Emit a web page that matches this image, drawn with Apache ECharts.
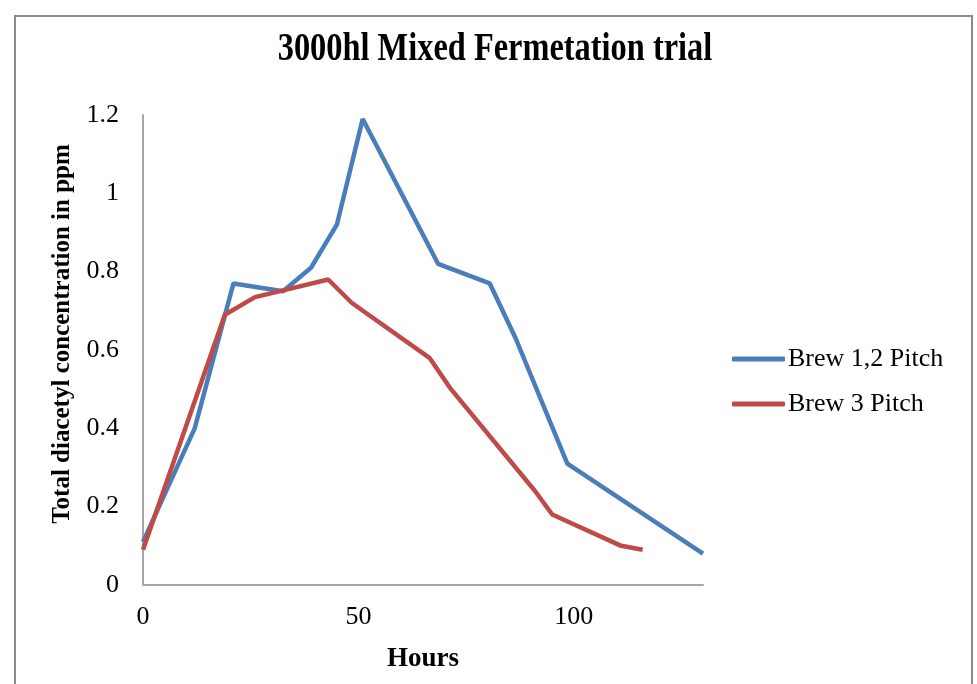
<!DOCTYPE html>
<html>
<head>
<meta charset="utf-8">
<script src="https://cdn.jsdelivr.net/npm/echarts@6/dist/echarts.min.js"></script>
<style>
html,body{margin:0;padding:0;background:#fff;}
#chart{width:977px;height:684px;}
</style>
</head>
<body>
<div id="chart"></div>
<script>
// Data
var seriesNames = ['Brew 1,2 Pitch', 'Brew 3 Pitch'];
var brew12Hours = [0, 12, 21, 32.5, 39, 45, 51, 68.5, 80.5, 86.5, 98.5, 130];
var brew12Ppm   = [0.11, 0.40, 0.77, 0.75, 0.81, 0.92, 1.19, 0.82, 0.77, 0.63, 0.31, 0.08];
var brew3Hours  = [0, 19, 26, 43, 48.5, 66.5, 71.5, 91, 95, 111, 116];
var brew3Ppm    = [0.09, 0.69, 0.735, 0.78, 0.72, 0.58, 0.50, 0.24, 0.18, 0.10, 0.09];
var xTicks = [0, 50, 100];
var yTicks = [0, 0.2, 0.4, 0.6, 0.8, 1, 1.2];
var titleText = '3000hl Mixed Fermetation trial';
var xName = 'Hours';
var yName = 'Total diacetyl concentration in ppm';

function pairs(xs, ys) { return xs.map(function (x, i) { return [x, ys[i]]; }); }

var FONT = 'Liberation Serif';
var chart = echarts.init(document.getElementById('chart'));
chart.setOption({
  backgroundColor: '#ffffff',
  animation: false,
  graphic: [
    { type: 'rect', shape: { x: 15, y: 16, width: 957, height: 720 },
      style: { fill: 'none', stroke: '#8a8a8a', lineWidth: 2 }, silent: true },
    { type: 'text', x: 495, y: 50, scaleX: 0.81, scaleY: 1,
      style: { text: titleText, font: 'bold 40px "' + FONT + '"', fill: '#000',
               textAlign: 'center', textVerticalAlign: 'middle' } },
    { type: 'text', x: 63, y: 334, rotation: Math.PI / 2,
      style: { text: yName, font: 'bold 25px "' + FONT + '"', fill: '#000',
               textAlign: 'center', textVerticalAlign: 'middle' } }
  ],
  grid: { left: 143, right: 274, top: 115, bottom: 99, containLabel: false },
  legend: {
    orient: 'vertical', left: 732, top: 346, padding: 0,
    itemWidth: 53, itemHeight: 5, itemGap: 19, icon: 'roundRect',
    textStyle: { fontFamily: FONT, fontSize: 26, color: '#000', lineHeight: 26, padding: [0, 0, 0, -2] },
    data: seriesNames
  },
  xAxis: {
    type: 'value', min: 0, max: 130, interval: 50,
    name: xName, nameLocation: 'middle', nameGap: 61,
    nameTextStyle: { fontFamily: FONT, fontSize: 27, fontWeight: 'bold', color: '#000' },
    axisLine: { show: true, lineStyle: { color: '#a6a6a6', width: 2 } },
    axisTick: { show: false },
    splitLine: { show: false },
    axisLabel: { fontFamily: FONT, fontSize: 26, color: '#000', margin: 19, showMaxLabel: false,
      formatter: function (v) { return xTicks.indexOf(v) >= 0 ? String(v) : ''; } }
  },
  yAxis: {
    type: 'value', min: 0, max: 1.2, interval: 0.2,
    axisLine: { show: true, lineStyle: { color: '#a6a6a6', width: 2 } },
    axisTick: { show: false },
    splitLine: { show: false },
    axisLabel: { fontFamily: FONT, fontSize: 26, color: '#000', margin: 24,
      formatter: function (v) {
        var r = Math.round(v * 10) / 10;
        for (var i = 0; i < yTicks.length; i++) if (Math.abs(yTicks[i] - r) < 1e-9) return String(yTicks[i]);
        return '';
      } }
  },
  series: [
    { name: seriesNames[0], type: 'line', data: pairs(brew12Hours, brew12Ppm),
      showSymbol: false, symbol: 'none', color: '#4a7ebb',
      lineStyle: { color: '#4a7ebb', width: 4.5 } },
    { name: seriesNames[1], type: 'line', data: pairs(brew3Hours, brew3Ppm),
      showSymbol: false, symbol: 'none', color: '#be4b48',
      lineStyle: { color: '#be4b48', width: 4.5 } }
  ]
});
</script>
</body>
</html>
